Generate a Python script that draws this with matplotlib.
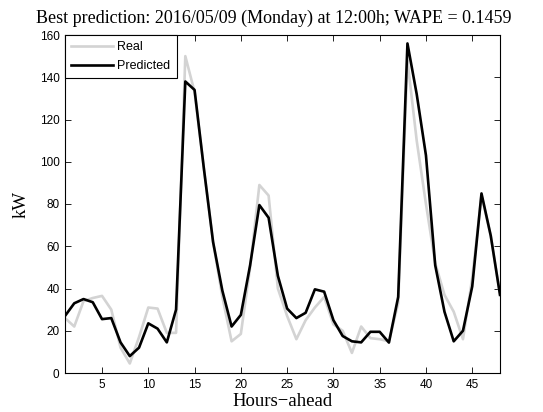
import matplotlib
matplotlib.use("Agg")
import matplotlib.pyplot as plt
import numpy as np

hours = list(range(1, 49))
real = [26, 22, 34, 35.5, 36.5, 30, 12, 4.5, 17, 31, 30.5, 19, 19, 150, 133, 97,
        62, 36, 15, 18.5, 50, 89, 84, 40, 27, 16, 25, 31, 36, 23, 20, 9.5,
        22, 16.5, 16, 15, 33, 148, 110, 80, 52, 37, 29, 16, 45, 84, 65, 37]
pred = [27, 33, 35, 33.5, 25.5, 26, 14.5, 8, 12, 23.5, 21, 14.5, 30, 138, 134, 97,
        62, 39, 22, 27.5, 51, 79.5, 73.5, 46, 30.5, 26, 28.5, 39.6, 38.5, 25, 17.5, 15,
        14.5, 19.5, 19.5, 14.4, 36, 156, 132, 103, 51, 29, 15, 20, 41, 85, 65, 37]
xticks = [5, 10, 15, 20, 25, 30, 35, 40, 45]
yticks = [0, 20, 40, 60, 80, 100, 120, 140, 160]

serif = ["Liberation Serif", "DejaVu Serif"]
sans = ["Liberation Sans", "DejaVu Sans"]

fig = plt.figure(figsize=(5.43, 4.12), dpi=100)
ax = fig.add_axes([65/543, 1-373/412, (500-65)/543, (373-35)/412])

ax.plot(hours, real, color="#d3d3d3", lw=1.9, label="Real")
ax.plot(hours, pred, color="black", lw=1.9, label="Predicted")

ax.set_xlim(1, 48)
ax.set_ylim(0, 160)
ax.set_xticks(xticks)
ax.set_yticks(yticks)
ax.tick_params(direction="in", top=True, right=True, length=4, width=0.6,
               labelsize=8.5, pad=4)
for lab in ax.get_xticklabels() + ax.get_yticklabels():
    lab.set_family(sans)
for s in ax.spines.values():
    s.set_linewidth(0.8)

ax.set_title("Best prediction: 2016/05/09 (Monday) at 12:00h; WAPE = 0.1459",
             family=serif, fontsize=13, pad=9, x=0.48)
ax.set_xlabel("Hours\u2212ahead", family=serif, fontsize=13.5, labelpad=2)
ax.set_ylabel("kW", family=serif, fontsize=13.5, labelpad=7)

leg = ax.legend(loc="upper left", prop={"family": sans, "size": 9},
                fancybox=False, framealpha=1, edgecolor="black",
                borderaxespad=0, handlelength=3.3, borderpad=0.5,
                labelspacing=0.55, handletextpad=0.4)
leg.get_frame().set_linewidth(0.8)

fig.savefig("out.png", dpi=100)
